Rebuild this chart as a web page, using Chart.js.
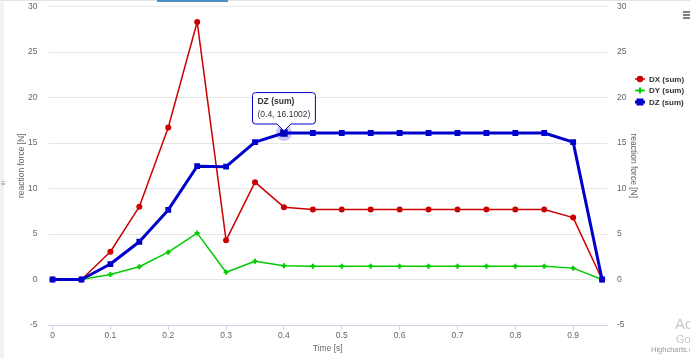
<!DOCTYPE html>
<html>
<head>
<meta charset="utf-8">
<script src="https://cdn.jsdelivr.net/npm/chart.js@4.4.1/dist/chart.umd.min.js"></script>
<style>
  html, body { margin: 0; padding: 0; background: #ffffff; }
  #wrap { position: relative; width: 690px; height: 358px; }
  canvas { display: block; }
</style>
</head>
<body>
<div id="wrap"><canvas id="c" width="690" height="358"></canvas></div>
<script>
// ---- data ----
const times = [0, 0.05, 0.1, 0.15, 0.2, 0.25, 0.3, 0.35, 0.4, 0.45, 0.5, 0.55, 0.6, 0.65, 0.7, 0.75, 0.8, 0.85, 0.9, 0.95];
const dxSum = [0, 0, 3.05, 8.0, 16.7, 28.3, 4.3, 10.7, 7.95, 7.7, 7.7, 7.7, 7.7, 7.7, 7.7, 7.7, 7.7, 7.7, 6.8, 0];
const dySum = [0, 0, 0.55, 1.4, 3.0, 5.1, 0.8, 2.0, 1.5, 1.45, 1.45, 1.45, 1.45, 1.45, 1.45, 1.45, 1.45, 1.45, 1.25, 0];
const dzSum = [0, 0, 1.7, 4.15, 7.65, 12.45, 12.4, 15.1, 16.1002, 16.1, 16.1, 16.1, 16.1, 16.1, 16.1, 16.1, 16.1, 16.1, 15.1, 0];
const seriesNames = ['DX (sum)', 'DY (sum)', 'DZ (sum)'];
const xTicks = [0, 0.1, 0.2, 0.3, 0.4, 0.5, 0.6, 0.7, 0.8, 0.9];
const yTicks = [-5, 0, 5, 10, 15, 20, 25, 30];
const xTitle = 'Time [s]';
const yTitle = 'reaction force [N]';
const tooltipSeries = 2;
const tooltipIndex = 8;

const FONT = "'Liberation Sans', Arial, sans-serif";
const RED = '#cc0000', GREEN = '#00cc00', BLUE = '#0000cc';

const toXY = arr => arr.map((v, i) => ({ x: times[i], y: v }));

const decorPlugin = {
  id: 'decor',
  beforeDraw(chart) {
    const ctx = chart.ctx;
    ctx.save();
    ctx.fillStyle = '#ffffff';
    ctx.fillRect(0, 0, chart.width, chart.height);
    ctx.fillStyle = '#f2f2f2';
    ctx.fillRect(0, 0, 4, chart.height);
    ctx.fillStyle = '#e4e4e4';
    ctx.fillRect(0, 0, chart.width, 1);
    ctx.fillStyle = '#4a90c8';
    ctx.fillRect(157, 0, 71, 2);
    ctx.restore();
  },
  beforeDatasetsDraw(chart) {
    const ctx = chart.ctx;
    const act = chart.getActiveElements();
    ctx.save();
    act.forEach(a => {
      const el = chart.getDatasetMeta(a.datasetIndex).data[a.index];
      ctx.beginPath();
      ctx.arc(el.x, el.y, 8, 0, Math.PI * 2);
      ctx.fillStyle = 'rgba(0,0,204,0.22)';
      ctx.fill();
    });
    ctx.restore();
  },
  afterDraw(chart) {
    const ctx = chart.ctx;
    ctx.save();
    // legend
    const ys = [79, 90.5, 102];
    chart.data.datasets.forEach((ds, i) => {
      const y = ys[i];
      ctx.strokeStyle = ds.borderColor;
      ctx.lineWidth = i === 2 ? 3 : 1.5;
      ctx.beginPath(); ctx.moveTo(635, y); ctx.lineTo(645, y); ctx.stroke();
      ctx.fillStyle = ds.borderColor;
      if (ds.pointStyle === 'circle') {
        ctx.beginPath(); ctx.arc(640, y, 3.2, 0, Math.PI * 2); ctx.fill();
      } else if (ds.pointStyle === 'cross') {
        ctx.lineWidth = 2;
        ctx.beginPath(); ctx.moveTo(637, y); ctx.lineTo(643, y);
        ctx.moveTo(640, y - 3); ctx.lineTo(640, y + 3); ctx.stroke();
      } else {
        ctx.fillRect(636.5, y - 3.5, 7, 7);
      }
      ctx.fillStyle = '#333333';
      ctx.font = 'bold 8px ' + FONT;
      ctx.textBaseline = 'middle';
      ctx.textAlign = 'left';
      ctx.fillText(ds.label, 649, y + 0.5);
    });
    // menu icon
    ctx.fillStyle = '#555555';
    [12, 15, 18].forEach(y => ctx.fillRect(683, y - 0.75, 8, 1.5));
    // left grip
    ctx.fillStyle = '#888888';
    ctx.font = '8px ' + FONT;
    ctx.textAlign = 'left';
    ctx.textBaseline = 'middle';
    ctx.fillText('\u2261', 1, 184);
    // watermark + credits
    ctx.fillStyle = '#c8c8c8';
    ctx.font = '15px ' + FONT;
    ctx.textBaseline = 'middle';
    ctx.fillText('Activate Windows', 675, 325);
    ctx.font = '11px ' + FONT;
    ctx.fillText('Go to Settings to activate Windows.', 676, 340);
    ctx.fillStyle = '#999999';
    ctx.font = '7.5px ' + FONT;
    ctx.fillText('Highcharts.com', 651, 350);
    ctx.restore();
  }
};

const noPadV = s => { s.paddingTop = 0; s.paddingBottom = 0; };

const chart = new Chart(document.getElementById('c'), {
  type: 'line',
  data: {
    datasets: [
      {
        label: seriesNames[0], data: toXY(dxSum), borderColor: RED, backgroundColor: RED,
        borderWidth: 1.5, pointStyle: 'circle', pointRadius: 3, pointHoverRadius: 4,
        pointBorderWidth: 0, borderJoinStyle: 'round', order: 3
      },
      {
        label: seriesNames[1], data: toXY(dySum), borderColor: GREEN, backgroundColor: GREEN,
        borderWidth: 1.5, pointStyle: 'cross', pointRadius: 2.5, pointHoverRadius: 3.5,
        pointBorderWidth: 2, pointBorderColor: GREEN, borderJoinStyle: 'round', order: 2
      },
      {
        label: seriesNames[2], data: toXY(dzSum), borderColor: BLUE, backgroundColor: BLUE,
        borderWidth: 3, pointStyle: 'rect', pointRadius: 4.1, pointHoverRadius: 5.3,
        pointBorderWidth: 0, pointHoverBorderWidth: 0, borderJoinStyle: 'round', order: 1
      }
    ]
  },
  options: {
    responsive: false,
    animation: false,
    events: [],
    layout: { padding: { top: 6.5, left: 0, right: 0, bottom: 0 } },
    scales: {
      x: {
        type: 'linear', position: 'bottom', min: -0.007, max: 0.9585,
        afterBuildTicks: s => { s.ticks = xTicks.map(v => ({ value: v })); },
        afterFit: s => { s.height = 33; s.paddingLeft = 0; s.paddingRight = 0; },
        grid: { display: true, drawOnChartArea: false, drawTicks: true, tickLength: 5, color: '#ccd6eb', tickColor: '#ccd6eb' },
        border: { display: true, color: '#ccd6eb', width: 1 },
        ticks: { color: '#666666', font: { family: FONT, size: 8.5 }, padding: 1, maxRotation: 0, autoSkip: false,
                 callback: v => String(Math.round(v * 10) / 10) },
        title: { display: true, text: xTitle, color: '#666666', font: { family: FONT, size: 8.5 }, padding: { top: 0, bottom: 4 } }
      },
      y: {
        type: 'linear', position: 'left', min: -5, max: 30,
        afterBuildTicks: s => { s.ticks = yTicks.map(v => ({ value: v })); },
        afterFit: s => { s.width = 48.5; noPadV(s); },
        grid: { color: '#e6e6e6', lineWidth: 1, drawTicks: false },
        border: { display: false },
        ticks: { color: '#666666', font: { family: FONT, size: 8.5 }, padding: 11 },
        title: { display: true, text: yTitle, color: '#666666', font: { family: FONT, size: 8.5 }, padding: { top: 16.5, bottom: 0 } }
      },
      y2: {
        type: 'linear', position: 'right', min: -5, max: 30,
        afterBuildTicks: s => { s.ticks = yTicks.map(v => ({ value: v })); },
        afterFit: s => { s.width = 83; noPadV(s); },
        grid: { display: false, drawTicks: false },
        border: { display: false },
        ticks: { color: '#666666', font: { family: FONT, size: 8.5 }, padding: 10 },
        title: { display: true, text: yTitle, color: '#666666', font: { family: FONT, size: 8.5 }, padding: { top: 51.5, bottom: 0 } }
      }
    },
    plugins: {
      legend: { display: false },
      tooltip: {
        enabled: true,
        backgroundColor: 'rgba(255,255,255,0.92)',
        borderColor: BLUE, borderWidth: 1, cornerRadius: 3,
        titleColor: '#333333', bodyColor: '#333333',
        titleFont: { family: FONT, size: 8.5, weight: 'bold' },
        bodyFont: { family: FONT, size: 8.5 },
        titleMarginBottom: 3,
        padding: { top: 4, bottom: 4, left: 5, right: 5 },
        displayColors: false,
        caretSize: 7, caretPadding: 2,
        xAlign: 'center', yAlign: 'bottom',
        callbacks: {
          title: items => items[0].dataset.label,
          label: item => '(' + item.raw.x + ', ' + item.raw.y + ')'
        }
      }
    }
  },
  plugins: [decorPlugin]
});

const act = [{ datasetIndex: tooltipSeries, index: tooltipIndex }];
chart.setActiveElements(act);
const el = chart.getDatasetMeta(tooltipSeries).data[tooltipIndex];
chart.tooltip.setActiveElements(act, { x: el.x, y: el.y });
chart.update();
</script>
</body>
</html>
